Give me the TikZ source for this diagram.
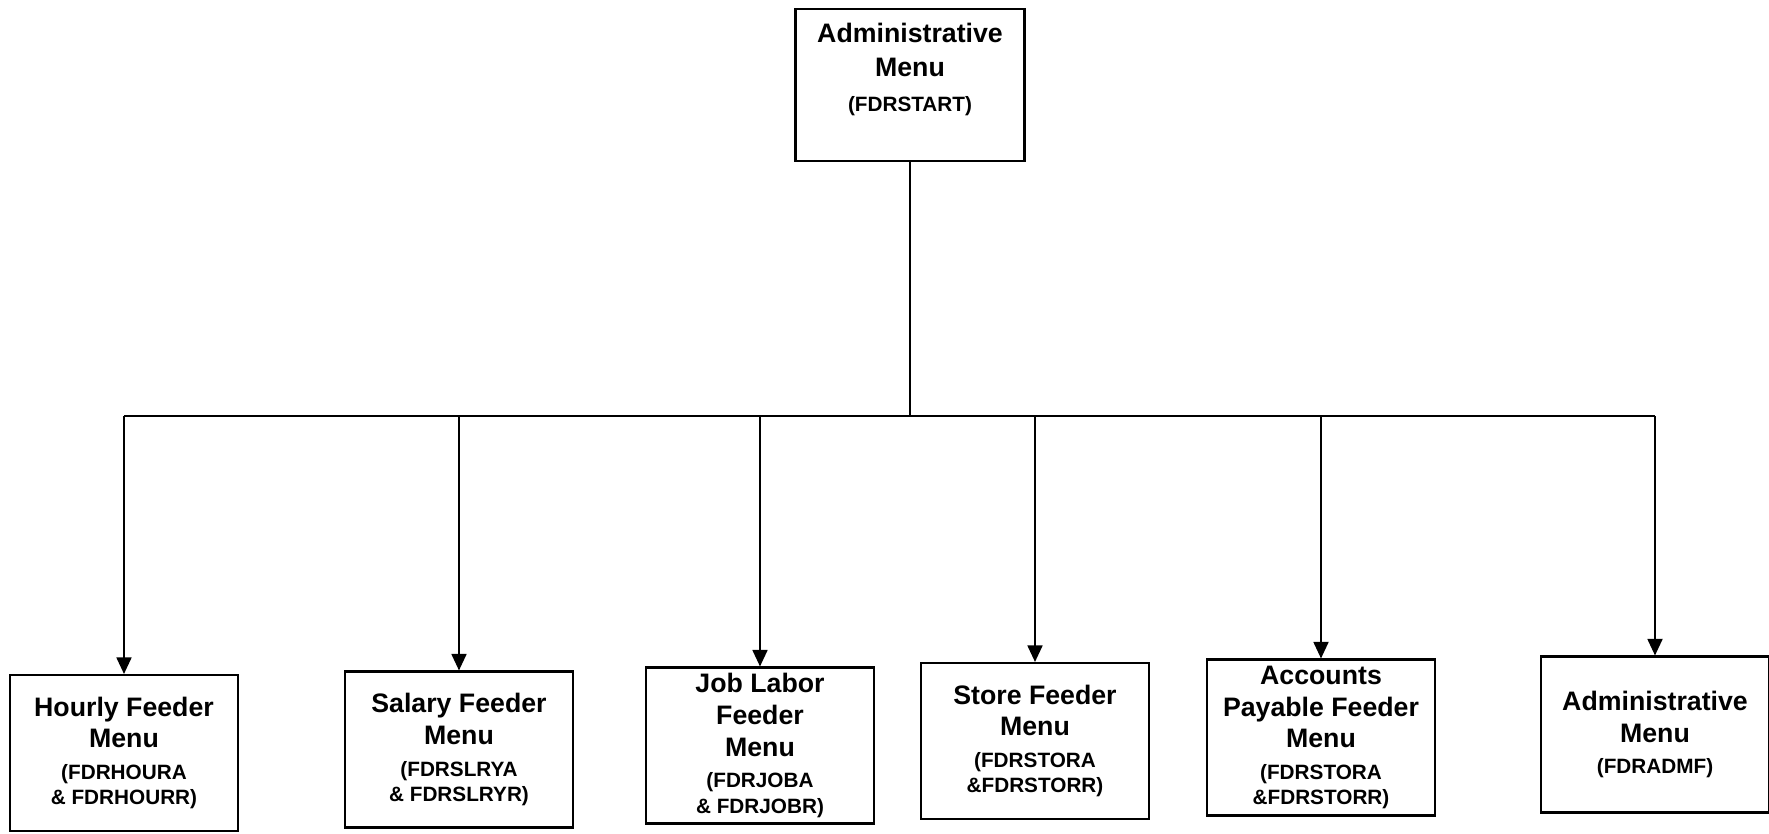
\documentclass[tikz,border=0pt]{standalone}
\usepackage{fontspec}
\setmainfont{Liberation Sans}
\usepackage{tikz}
\usetikzlibrary{arrows.meta}
\newcommand{\prog}[1]{{\fontsize{5.9}{7.2}\selectfont #1}}
\def\menuLineWidth{0.6pt}
\tikzset{
menu node/.style={draw, rectangle, line width=\menuLineWidth, align=center, inner sep=1pt,
  minimum width=2.28cm, minimum height=1.56cm, font=\fontsize{7.6}{9}\selectfont\bfseries},
%
%
feeder link/.style={line width=0.5pt,-{Triangle[length=1.65mm,width=1.5mm]}},
plain link/.style={line width=0.5pt},
}

\begin{document}
\begin{tikzpicture}
        \useasboundingbox (0,0) rectangle (17.69,8.33);
        \node[menu node, minimum width=2.29cm, minimum height=1.52cm, text depth=0.36cm,
              font=\fontsize{7.6}{9.8}\selectfont\bfseries] (start) at (9.10,7.48)
            {Administrative\\Menu\\\prog{(FDRSTART)}};
        \coordinate (bus) at (0,4.17);
        \foreach \n/\x/\y/\txt in {
            1/1.24/0.80/{Hourly Feeder\\Menu\\\prog{(FDRHOURA}\\[-1.8pt]\prog{\& FDRHOURR)}},
            2/4.59/0.835/{Salary Feeder\\Menu\\\prog{(FDRSLRYA}\\[-1.8pt]\prog{\& FDRSLRYR)}},
            3/7.60/0.875/{Job Labor\\Feeder\\Menu\\\prog{(FDRJOBA}\\[-1.8pt]\prog{\& FDRJOBR)}},
            4/10.35/0.92/{Store Feeder\\Menu\\\prog{(FDRSTORA}\\[-1.8pt]\prog{\&FDRSTORR)}},
            5/13.21/0.955/{Accounts\\Payable Feeder\\Menu\\\prog{(FDRSTORA}\\[-1.8pt]\prog{\&FDRSTORR)}},
            6/16.55/0.985/{Administrative\\Menu\\\prog{(FDRADMF)}}}  {
            \node[menu node] (m\n) at (\x,\y) {\txt};
            \coordinate (b\n) at (m\n.north |- bus);
        }
        \coordinate (hub) at (start.south |- bus);
        \draw[plain link] (start) -- (hub) ;
        \draw[plain link] (b1) -- (b6) ;
        \draw[feeder link] (b1) -- (m1) ;
        \draw[feeder link] (b2) -- (m2) ;
        \draw[feeder link] (b3) -- (m3) ;
        \draw[feeder link] (b4) -- (m4) ;
        \draw[feeder link] (b5) -- (m5) ;
        \draw[feeder link] (b6) -- (m6) ;
\end{tikzpicture}
\end{document}
